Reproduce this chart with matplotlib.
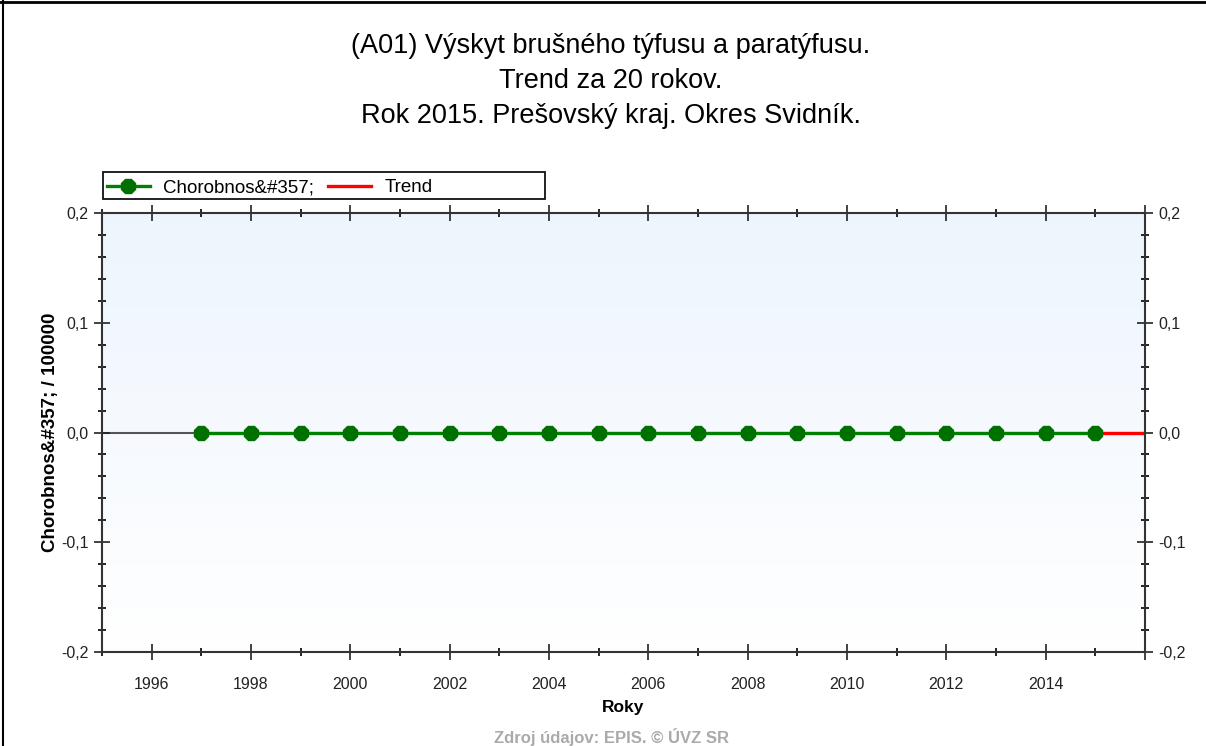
import matplotlib
matplotlib.use("Agg")
import matplotlib.pyplot as plt
import numpy as np
from matplotlib.ticker import MultipleLocator, FuncFormatter
from matplotlib.lines import Line2D
from matplotlib.patches import Rectangle

years = list(range(1997, 2016))
incidence = [0.0] * len(years)
trend_years = [2015, 2016]
trend_values = [0.0, 0.0]

title = ("(A01) Výskyt brušného týfusu a paratýfusu.\n"
         "Trend za 20 rokov.\n"
         "Rok 2015. Prešovský kraj. Okres Svidník.")

plt.rcParams["font.family"] = ["Liberation Sans", "DejaVu Sans"]

W, H = 1206, 746
fig = plt.figure(figsize=(W / 100, H / 100), dpi=100)
ax = fig.add_axes([102 / W, 1 - 652 / H, (1145 - 102) / W, (652 - 213) / H])

# background gradient: light blue at top to white at bottom
grad = np.linspace(0, 1, 256).reshape(-1, 1, 1)
top = np.array([0.93, 0.96, 0.995])
bottom = np.array([1.0, 1.0, 1.0])
img = top + (bottom - top) * grad
ax.imshow(img, extent=[1995, 2016, -0.2, 0.2], origin="upper", aspect="auto", zorder=0)

ax.axhline(0, color="#555555", lw=1.5, zorder=1)
ax.plot(trend_years, trend_values, color="#ff0000", lw=2.4, zorder=2)
ax.plot(years, incidence, color="#008000", lw=2.4, marker="8", markersize=10.5,
        markerfacecolor="#007000", markeredgecolor="#007000", zorder=3)

ax.set_xlim(1995, 2016)
ax.set_ylim(-0.2, 0.2)

ax.xaxis.set_major_locator(MultipleLocator(2))
ax.xaxis.set_minor_locator(MultipleLocator(1))
ax.yaxis.set_major_locator(MultipleLocator(0.1))
ax.yaxis.set_minor_locator(MultipleLocator(0.02))
ax.xaxis.set_major_formatter(FuncFormatter(lambda v, p: f"{int(round(v))}" if 1995.5 < v < 2015.5 else ""))
ax.yaxis.set_major_formatter(FuncFormatter(lambda v, p: f"{v:.1f}".replace(".", ",").replace("-0,0", "0,0")))

ax.tick_params(axis="both", which="major", direction="inout", length=12, width=1.2,
               labelsize=11.5, colors="#222222")
ax.tick_params(axis="both", which="minor", direction="inout", length=6, width=1.2)
ax.tick_params(axis="y", which="both", right=True, labelright=True)
ax.tick_params(axis="x", which="both", top=True)
ax.tick_params(axis="x", which="major", pad=12)

for s in ax.spines.values():
    s.set_color("#333333")
    s.set_linewidth(1.5)

ax.set_xlabel("Roky", fontsize=12.5, fontweight="bold", labelpad=6)
ax.set_ylabel("Chorobnos&#357; / 100000", fontsize=13.5, fontweight="bold", labelpad=2)

fig.text(611 / W, 1 - 81 / H, title, ha="center", va="center", fontsize=19.5,
         linespacing=1.43)

# legend box spans wider than its entries
fig.add_artist(Rectangle((103 / W, 1 - 199 / H), (545 - 103) / W, 27 / H,
                         transform=fig.transFigure, fill=False, edgecolor="#111111", lw=1.3))
handles = [Line2D([], [], color="#008000", lw=2.4, marker="8", markersize=10.5,
                  markerfacecolor="#007000", markeredgecolor="#007000"),
           Line2D([], [], color="#ff0000", lw=2.4)]
fig.legend(handles, ["Chorobnos&#357;", "Trend"], ncol=2, loc="center left",
           bbox_to_anchor=(103 / W, 1 - 187.5 / H), frameon=False,
           fontsize=13.5, handlelength=2.3, columnspacing=0.75,
           borderpad=0.2, borderaxespad=0, handletextpad=0.7)

fig.text(611 / W, 1 - 737 / H, "Zdroj údajov: EPIS. © ÚVZ SR", ha="center", va="center",
         fontsize=12, color="#aaaaaa", fontweight="bold")

# outer frame lines (top and left)
fig.add_artist(Line2D([0, 1], [1 - 2 / H, 1 - 2 / H], color="black", lw=2,
                      transform=fig.transFigure))
fig.add_artist(Line2D([2.5 / W, 2.5 / W], [0, 1], color="black", lw=1.5,
                      transform=fig.transFigure))

fig.savefig("out.png", dpi=100)
